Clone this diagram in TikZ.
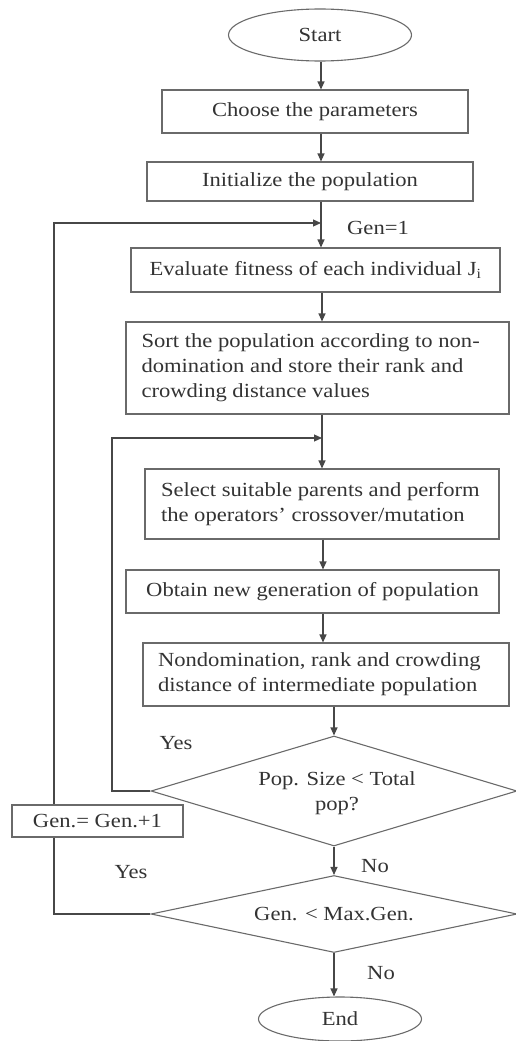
\documentclass[tikz,border=0pt]{standalone}
\usepackage{fontspec}
\setmainfont{Liberation Serif}[FakeStretch=1.13]
\usetikzlibrary{shapes.geometric,arrows.meta}
\definecolor{ink}{HTML}{333333}
\definecolor{edge}{HTML}{6A6A6A}
\begin{document}
\begin{tikzpicture}[x=1pt,y=-1pt,
  every node/.style={text=ink,font=\fontsize{20}{25}\selectfont},
  pbox/.style={draw=edge,line width=1.1pt,rectangle,inner sep=0pt},
  term/.style={draw=edge,line width=1.1pt,ellipse,inner sep=0pt},
  dec/.style={draw=edge,line width=1.1pt,diamond,inner sep=0pt,shape aspect=3.3},
  conn/.style={draw=ink!90,line width=1.1pt},
  arr/.style={conn,-{Triangle[length=8pt,width=7pt]}},
  lbl/.style={inner sep=0pt}
]
\useasboundingbox (0,0) rectangle (516,1041);
\node[term,minimum width=183pt,minimum height=52pt] (start) at (320,35) {Start};
\node[pbox,minimum width=306pt,minimum height=43pt] (choose) at (315,111.5) {Choose the parameters};
\node[pbox,minimum width=326pt,minimum height=39pt] (init) at (310,181.5) {Initialize the population};
\node[pbox,minimum width=369pt,minimum height=44pt] (eval) at (315.5,270) {Evaluate fitness of each individual J\textsubscript{i}};
\node[pbox,minimum width=383pt,minimum height=92pt,align=left] (sort) at (317.5,368) {\parbox{352pt}{\raggedright Sort the population according to non-\\domination and store their rank and\\crowding distance values}};
\node[pbox,minimum width=354pt,minimum height=70pt] (select) at (322,504) {\parbox{322pt}{\raggedright Select suitable parents and perform\\the operators' crossover/mutation}};
\node[pbox,minimum width=373pt,minimum height=43pt] (obtain) at (312.5,591.5) {Obtain new generation of population};
\node[pbox,minimum width=366pt,minimum height=63pt] (nondom) at (326,674.5) {\parbox{336pt}{\raggedright Nondomination, rank and crowding\\distance of intermediate population}};
\node[dec,minimum width=366pt,minimum height=110pt] (d1) at (334,791) {};
\node[lbl,align=center] (d1txt) at (337,793) {Pop. Size < Total\\pop?};
\node[dec,minimum width=366pt,minimum height=77pt] (d2) at (334,914) {Gen. < Max.Gen.};
\node[term,minimum width=163pt,minimum height=44pt] (end) at (340,1019) {End};
\node[pbox,minimum width=171pt,minimum height=32pt] (gen) at (97.5,821) {Gen.= Gen.+1};

\node[lbl] (gen1) at (378,228) {Gen=1};
\node[lbl] (yes1) at (176,743) {Yes};
\node[lbl] (no1) at (375,866) {No};
\node[lbl] (yes2) at (131,872) {Yes};
\node[lbl] (no2) at (381,973) {No};

\coordinate (m1) at (321,223);
\coordinate (m2) at (322,438);

\draw[arr] (start.south -| 321,0) -- (choose.north -| 321,0);
\draw[arr] (choose.south -| 321,0) -- (init.north -| 321,0);
\draw[arr] (init.south -| m1) -- (eval.north -| m1);
\draw[arr] (eval.south -| 322,0) -- (sort.north -| 322,0);
\draw[arr] (sort.south -| m2) -- (select.north -| m2);
\draw[arr] (select.south -| 323,0) -- (obtain.north -| 323,0);
\draw[arr] (obtain.south -| 323,0) -- (nondom.north -| 323,0);
\draw[arr] (nondom.south -| d1.north) -- (d1.north);
\draw[arr] (d1.south) -- (d2.north);
\draw[arr] (d2.south) -- (d2.south |- end.north);

\draw[arr] (d1.west) -- (d1.west -| 112,0) |- (m2);
\draw[conn] (d2.west) -- (d2.west -| 54,0) -- (gen.south -| 54,0);
\draw[arr] (gen.north -| 54,0) |- (m1);
\end{tikzpicture}
\end{document}
